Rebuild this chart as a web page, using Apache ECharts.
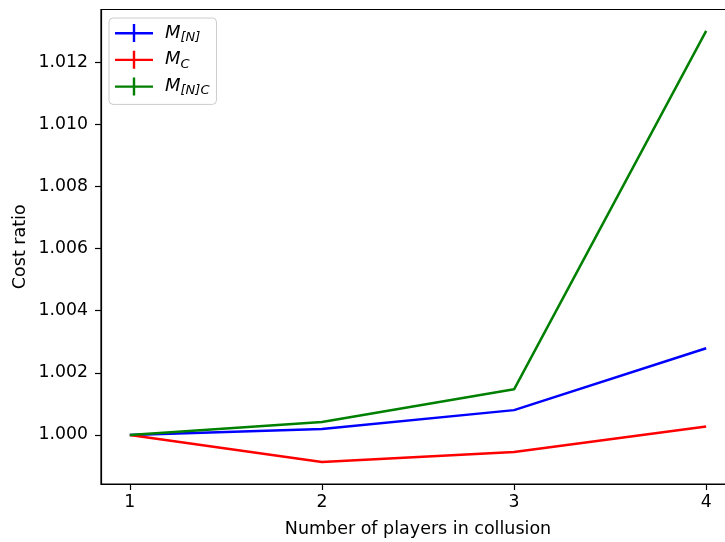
<!DOCTYPE html>
<html><head><meta charset="utf-8">
<script src="https://cdn.jsdelivr.net/npm/echarts@6/dist/echarts.min.js"></script>
<style>html,body{margin:0;padding:0;background:#fff}#c{width:725px;height:542px}</style>
</head><body><div id="c"></div>
<script>
const players = [1, 2, 3, 4];
const mN = [1.0000, 1.00019, 1.00080, 1.00279];
const mC = [1.0000, 0.99913, 0.99945, 1.00027];
const mNC = [1.0000, 1.00042, 1.00147, 1.01300];
const xTicks = [1, 2, 3, 4];
const yTicks = [1.000, 1.002, 1.004, 1.006, 1.008, 1.010, 1.012];
const seriesNames = ['MN', 'MC', 'MNC'];

const font = 'DejaVu Sans';
const fs = 17.3;
const pair = a => a.map((v, i) => [players[i], v]);
const icon = 'path://M0,8h38v2.4h-38z M17.8,0h2.4v18h-2.4z';
const rich = {
  m: {fontFamily: font, fontStyle: 'italic', fontSize: 18, color: '#000', lineHeight: 22, verticalAlign: 'middle'},
  s: {fontFamily: font, fontStyle: 'italic', fontSize: 13, color: '#000', lineHeight: 22, padding: [9, 0, 0, 0], verticalAlign: 'middle'}
};
const labels = {MN: '{m|M}{s|[N]}', MC: '{m|M}{s|C}', MNC: '{m|M}{s|[N]C}'};
const colors = {MN: '#0000ff', MC: '#ff0000', MNC: '#008000'};
const dataMap = {MN: mN, MC: mC, MNC: mNC};

const chart = echarts.init(document.getElementById('c'), null, {renderer: 'canvas'});
chart.setOption({
  animation: false,
  backgroundColor: '#fff',
  grid: {left: 101, top: 9.5, width: 634, height: 474.5, outerBoundsMode: 'none', containLabel: false,
         show: true, borderColor: '#000', borderWidth: 1.2, backgroundColor: 'transparent'},
  xAxis: {
    type: 'value', min: 0.85, max: 4.15,
    name: 'Number of players in collusion', nameLocation: 'middle', nameGap: 36,
    nameTextStyle: {fontFamily: font, fontSize: 17.5, color: '#000'},
    axisLine: {show: true, lineStyle: {color: '#000', width: 1.2}},
    axisTick: {show: true, customValues: xTicks, length: 6, lineStyle: {color: '#000', width: 1.2}},
    axisLabel: {customValues: xTicks, margin: 10, fontFamily: font, fontSize: fs, color: '#000'},
    splitLine: {show: false}
  },
  yAxis: {
    type: 'value', min: 0.998423, max: 1.01369,
    name: 'Cost ratio', nameLocation: 'middle', nameGap: 72, nameRotate: 90, nameMoveOverlap: false,
    nameTextStyle: {fontFamily: font, fontSize: 17.5, color: '#000'},
    axisLine: {show: true, lineStyle: {color: '#000', width: 1.2}},
    axisTick: {show: true, customValues: yTicks, length: 6, lineStyle: {color: '#000', width: 1.2}},
    axisLabel: {customValues: yTicks, margin: 13, fontFamily: font, fontSize: fs, color: '#000', formatter: v => v.toFixed(3)},
    splitLine: {show: false}
  },
  legend: {
    orient: 'vertical', left: 109, top: 18,
    padding: [4, 7, 7, 6], itemGap: 4.7, itemWidth: 38, itemHeight: 18,
    backgroundColor: 'rgba(255,255,255,0.8)', borderColor: '#cccccc', borderWidth: 1, borderRadius: 4,
    icon: icon,
    data: seriesNames.map(n => ({name: n, icon: icon})),
    formatter: n => labels[n],
    textStyle: {rich: rich, padding: [0, 0, 0, 7]}
  },
  series: seriesNames.map(n => ({
    name: n, type: 'line', data: pair(dataMap[n]),
    showSymbol: false, symbol: 'none',
    lineStyle: {color: colors[n], width: 2.5},
    itemStyle: {color: colors[n]}
  }))
});
</script></body></html>
